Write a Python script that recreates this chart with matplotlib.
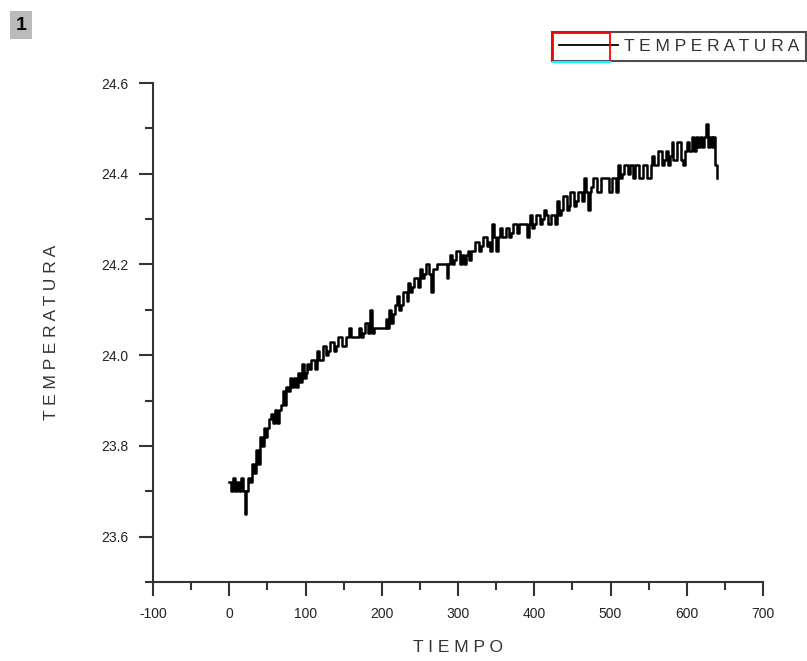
import numpy as np
import matplotlib
matplotlib.use("Agg")
import matplotlib.pyplot as plt
from matplotlib.patches import Rectangle
from matplotlib.lines import Line2D
from matplotlib.ticker import MultipleLocator

# temperatura, one reading every 2.5 s (rows of 50 s)
temperatura = [
    23.72, 23.70, 23.73, 23.70, 23.72, 23.70, 23.73, 23.70, 23.65, 23.70, 23.73, 23.72, 23.76, 23.74, 23.79, 23.76, 23.82, 23.80, 23.84, 23.82,
    23.84, 23.86, 23.87, 23.85, 23.88, 23.85, 23.88, 23.89, 23.92, 23.89, 23.93, 23.92, 23.95, 23.93, 23.95, 23.93, 23.96, 23.94, 23.98, 23.95,
    23.96, 23.98, 23.97, 23.99, 23.99, 23.97, 24.01, 23.99, 23.99, 24.02, 24.02, 24.00, 24.01, 24.03, 24.03, 24.01, 24.02, 24.04, 24.04, 24.02,
    24.02, 24.04, 24.04, 24.06, 24.04, 24.04, 24.04, 24.04, 24.06, 24.04, 24.05, 24.07, 24.07, 24.05, 24.10, 24.05, 24.06, 24.06, 24.06, 24.06,
    24.06, 24.06, 24.08, 24.06, 24.10, 24.07, 24.09, 24.11, 24.13, 24.10, 24.11, 24.14, 24.14, 24.12, 24.16, 24.14, 24.15, 24.17, 24.17, 24.15,
    24.19, 24.17, 24.18, 24.20, 24.20, 24.18, 24.14, 24.19, 24.19, 24.20, 24.20, 24.20, 24.20, 24.20, 24.17, 24.20, 24.22, 24.20, 24.21, 24.23,
    24.23, 24.20, 24.22, 24.20, 24.22, 24.23, 24.21, 24.23, 24.23, 24.25, 24.25, 24.23, 24.24, 24.26, 24.26, 24.24, 24.25, 24.23, 24.29, 24.26,
    24.23, 24.26, 24.28, 24.26, 24.26, 24.28, 24.28, 24.26, 24.27, 24.29, 24.29, 24.27, 24.29, 24.29, 24.29, 24.29, 24.26, 24.29, 24.31, 24.28,
    24.29, 24.31, 24.31, 24.29, 24.30, 24.32, 24.31, 24.29, 24.29, 24.31, 24.31, 24.29, 24.34, 24.31, 24.32, 24.35, 24.35, 24.32, 24.33, 24.36,
    24.36, 24.33, 24.34, 24.36, 24.36, 24.34, 24.39, 24.36, 24.32, 24.36, 24.37, 24.39, 24.39, 24.36, 24.36, 24.39, 24.39, 24.39, 24.39, 24.36,
    24.36, 24.39, 24.39, 24.36, 24.42, 24.39, 24.40, 24.42, 24.42, 24.40, 24.42, 24.42, 24.39, 24.42, 24.42, 24.39, 24.39, 24.42, 24.42, 24.39,
    24.39, 24.42, 24.44, 24.42, 24.42, 24.45, 24.45, 24.42, 24.43, 24.45, 24.42, 24.44, 24.47, 24.43, 24.43, 24.47, 24.47, 24.43, 24.42, 24.45,
    24.47, 24.45, 24.45, 24.48, 24.45, 24.48, 24.46, 24.48, 24.46, 24.48, 24.51, 24.46, 24.48, 24.46, 24.48, 24.42, 24.39,
]
paso = 2.5  # s between readings
tiempo = np.arange(len(temperatura)) * paso

x_ticks = [-100, 0, 100, 200, 300, 400, 500, 600, 700]
y_ticks = [23.6, 23.8, 24.0, 24.2, 24.4, 24.6]

plt.rcParams['font.family'] = ['Liberation Sans', 'DejaVu Sans']

fig = plt.figure(figsize=(8.07, 6.61), dpi=100)
ax = fig.add_axes([0.1896, 0.1195, 0.7559, 0.7549])

line, = ax.plot(tiempo, temperatura, color="black", lw=1.8, drawstyle="steps-post",
                label="T E M P E R A T U R A")

ax.set_xlim(-100, 700)
ax.set_ylim(23.5, 24.6)
ax.set_xticks(x_ticks)
ax.set_yticks(y_ticks)
ax.set_xticklabels([str(v) for v in x_ticks])
ax.set_yticklabels(["{:.1f}".format(v) for v in y_ticks])
ax.xaxis.set_minor_locator(MultipleLocator(50))
ax.yaxis.set_minor_locator(MultipleLocator(0.1))

for s in ["top", "right"]:
    ax.spines[s].set_visible(False)
for s in ["left", "bottom"]:
    ax.spines[s].set_linewidth(1.5)
    ax.spines[s].set_color("#333333")

ax.tick_params(which="major", length=10, width=1.5, color="#333333",
               labelsize=10, labelcolor="#222222", pad=8)
ax.tick_params(which="minor", length=6, width=1.5, color="#333333")

ax.set_xlabel("T I E M P O", fontsize=12.5, color="#333333", labelpad=14)
ax.set_ylabel("T E M P E R A T U R A", fontsize=12.5, color="#333333", labelpad=30)

leg = fig.legend(handles=[line], loc="upper right", bbox_to_anchor=(0.9985, 0.951),
                 fontsize=12.5, frameon=True, fancybox=False, borderpad=0.4,
                 handlelength=3.4, handletextpad=0.3, borderaxespad=0)
leg.get_frame().set_edgecolor("#222222")
leg.get_frame().set_linewidth(1.5)
for t in leg.get_texts():
    t.set_color("#333333")
for h in leg.legend_handles:
    h.set_linewidth(1.3)

# Origin-style selection marks around the legend symbol
fig.add_artist(Rectangle((553 / 807, 1 - 62 / 661), 57 / 807, 29 / 661,
                         transform=fig.transFigure, fill=False,
                         edgecolor="red", lw=1.3, zorder=10))
fig.add_artist(Line2D([553 / 807, 610 / 807], [1 - 62 / 661, 1 - 62 / 661],
                      transform=fig.transFigure, color="cyan", lw=1.5, zorder=11))

fig.text(21 / 807, 1 - 25 / 661, "1", fontsize=14, fontweight="bold",
         ha="center", va="center",
         bbox=dict(boxstyle="square,pad=0.3", facecolor="#bbbbbb", edgecolor="none"))

fig.savefig("out.png", dpi=100)
